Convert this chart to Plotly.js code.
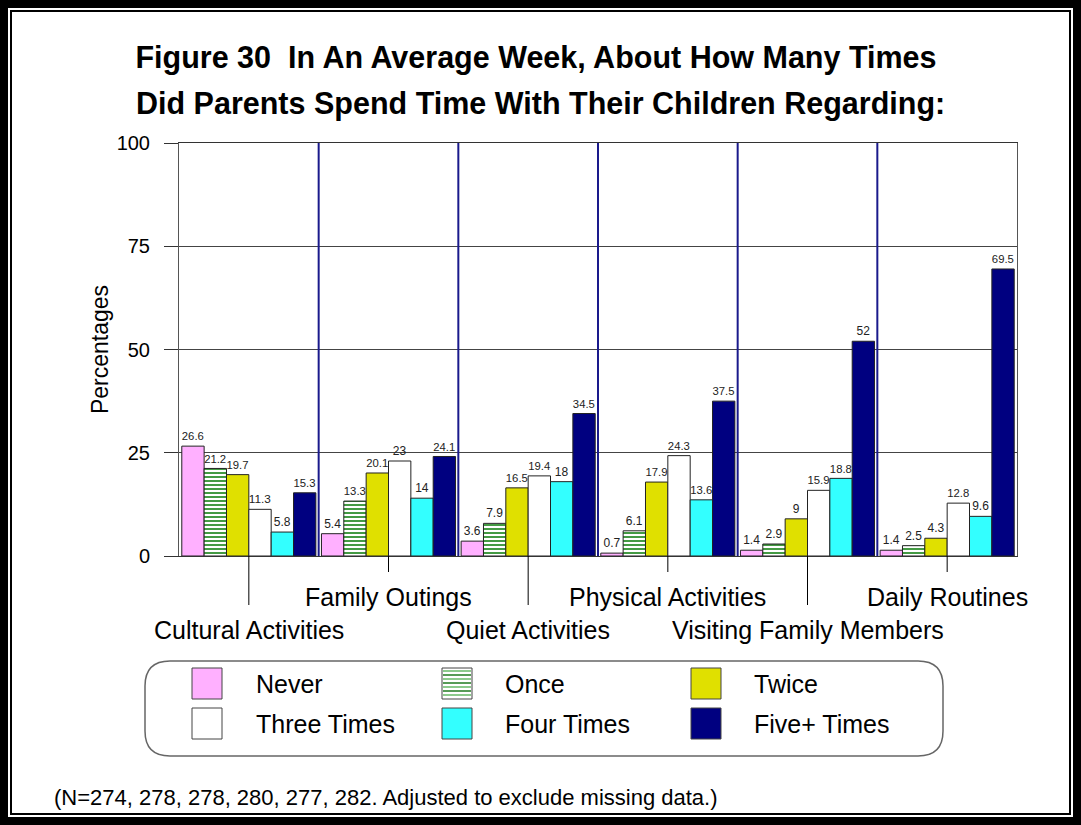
<!DOCTYPE html>
<html>
<head>
<meta charset="utf-8">
<script src="https://cdn.plot.ly/plotly-3.0.1.min.js"></script>
<style>
  html, body { margin: 0; padding: 0; background: #fff; }
  #wrap { position: relative; width: 1081px; height: 825px; }
  #chart { position: absolute; left: 0; top: 0; width: 1081px; height: 825px; }
  #outer { position: absolute; left: 0; top: 0; width: 1081px; height: 825px; box-sizing: border-box;
           border: 8px solid #000; pointer-events: none; }
  #inner { position: absolute; left: 10px; top: 10px; width: 1061px; height: 805px; box-sizing: border-box;
           border: 2px solid #000; pointer-events: none; }
</style>
</head>
<body>
<div id="wrap">
  <div id="chart"></div>
  <div id="outer"></div>
  <div id="inner"></div>
</div>
<script>
// ---- data ----
const categories = ['Cultural Activities', 'Family Outings', 'Quiet Activities',
                    'Physical Activities', 'Visiting Family Members', 'Daily Routines'];
const seriesNames = ['Never', 'Once', 'Twice', 'Three Times', 'Four Times', 'Five+ Times'];
const never = [26.6, 5.4, 3.6, 0.7, 1.4, 1.4];
const once  = [21.2, 13.3, 7.9, 6.1, 2.9, 2.5];
const twice = [19.7, 20.1, 16.5, 17.9, 9, 4.3];
const three = [11.3, 23, 19.4, 24.3, 15.9, 12.8];
const four  = [5.8, 14, 18, 13.6, 18.8, 9.6];
const five  = [15.3, 24.1, 34.5, 37.5, 52, 69.5];
const yTickVals = [0, 25, 50, 75, 100];
const titleLine1 = 'Figure 30  In An Average Week, About How Many Times';
const titleLine2 = 'Did Parents Spend Time With Their Children Regarding:';
const noteText = '(N=274, 278, 278, 280, 277, 282. Adjusted to exclude missing data.)';

// ---- styles ----
const FONT = 'Arial, "Liberation Sans", sans-serif';
const colors = ['#ffb0ff', '#ffffff', '#e0e000', '#ffffff', '#33ffff', '#000080'];
const W = 1081, H = 825;
const M = {l: 179, r: 64, t: 143, b: 269};
const plotW = W - M.l - M.r, plotH = H - M.t - M.b;
const px = v => (v - M.l) / plotW;          // pixel x -> paper
const py = v => (H - M.b - v) / plotH;      // pixel y -> paper

const allValues = [never, once, twice, three, four, five];
const traces = allValues.map((vals, i) => {
  const t = {
    type: 'bar', name: seriesNames[i], x: categories, y: vals,
    text: vals.map(v => String(v)), textposition: 'outside', cliponaxis: false,
    textfont: {family: FONT, size: 12, color: '#222'},
    marker: {color: colors[i], line: {color: '#222', width: 1}},
    showlegend: false, hoverinfo: 'x+y+name'
  };
  if (i === 1) {
    t.marker.pattern = {shape: '-', fgcolor: '#2f8f2f', bgcolor: '#ffffff', size: 4, solidity: 0.45};
  }
  return t;
});

const shapes = [];
const annotations = [];

// group separators
for (let i = 0; i < categories.length - 1; i++) {
  shapes.push({type: 'line', xref: 'x', yref: 'y', x0: i + 0.5, x1: i + 0.5, y0: 0, y1: 100,
               line: {color: '#1a1a8c', width: 2}, layer: 'above'});
}
// category ticks and staggered labels
categories.forEach((c, i) => {
  const lower = (i % 2 === 0);
  shapes.push({type: 'line', xref: 'x', yref: 'paper', x0: i, x1: i, y0: 0,
               y1: lower ? py(605) : py(572), line: {color: '#000', width: 1}});
  annotations.push({xref: 'x', yref: 'paper', x: c, y: lower ? py(630) : py(597),
                    text: c, showarrow: false, xanchor: 'center', yanchor: 'middle',
                    font: {family: FONT, size: 25, color: '#000'}});
});

// title line 2
annotations.push({xref: 'paper', yref: 'paper', x: px(540), y: py(103), text: '<b>' + titleLine2 + '</b>',
                  showarrow: false, xanchor: 'center', yanchor: 'middle',
                  font: {family: FONT, size: 30.5, color: '#000'}});
// note
annotations.push({xref: 'paper', yref: 'paper', x: px(52), y: py(797), text: noteText,
                  showarrow: false, xanchor: 'left', yanchor: 'middle',
                  font: {family: FONT, size: 22, color: '#000'}});

// legend box (rounded rectangle)
const bx0 = px(145), bx1 = px(943), by0 = py(756), by1 = py(661);
const rx = 25 / plotW, ry = 25 / plotH;
shapes.push({type: 'path', xref: 'paper', yref: 'paper',
  path: `M ${bx0 + rx} ${by1} L ${bx1 - rx} ${by1} Q ${bx1} ${by1} ${bx1} ${by1 - ry} ` +
        `L ${bx1} ${by0 + ry} Q ${bx1} ${by0} ${bx1 - rx} ${by0} L ${bx0 + rx} ${by0} ` +
        `Q ${bx0} ${by0} ${bx0} ${by0 + ry} L ${bx0} ${by1 - ry} Q ${bx0} ${by1} ${bx0 + rx} ${by1} Z`,
  line: {color: '#666', width: 1.5}, fillcolor: 'rgba(0,0,0,0)'});

const colX = [192, 442, 691];
const textX = [254, 503, 752];
const rowY = [668, 708];
seriesNames.forEach((name, i) => {
  const r = Math.floor(i / 3), c = i % 3;
  const x0 = colX[c], x1 = colX[c] + 30, y0 = rowY[r], y1 = rowY[r] + 31;
  shapes.push({type: 'rect', xref: 'paper', yref: 'paper', x0: px(x0), x1: px(x1), y0: py(y1), y1: py(y0),
               fillcolor: colors[i], line: {color: '#444', width: 1}});
  if (i === 1) {
    for (let yy = y0 + 3; yy < y1 - 1; yy += 4) {
      shapes.push({type: 'line', xref: 'paper', yref: 'paper', x0: px(x0 + 1), x1: px(x1 - 1),
                   y0: py(yy), y1: py(yy), line: {color: (yy % 8 < 4) ? '#1f7a1f' : '#66b866', width: 1.5}});
    }
  }
  annotations.push({xref: 'paper', yref: 'paper', x: px(textX[c]), y: py(y0 + 16), text: name,
                    showarrow: false, xanchor: 'left', yanchor: 'middle',
                    font: {family: FONT, size: 25, color: '#000'}});
});

const layout = {
  width: W, height: H,
  margin: M,
  paper_bgcolor: '#ffffff', plot_bgcolor: '#ffffff',
  font: {family: FONT, color: '#000'},
  title: {text: '<b>' + titleLine1 + '</b>', x: 536 / W, xref: 'container', xanchor: 'center',
          y: 1 - 57 / H, yref: 'container', yanchor: 'middle',
          font: {family: FONT, size: 30.5, color: '#000'}},
  barmode: 'group', bargap: 0.04, bargroupgap: 0,
  xaxis: {type: 'category', range: [-0.5, categories.length - 0.5], showticklabels: false,
          ticks: '', showgrid: false, showline: true, linecolor: '#333', linewidth: 1, mirror: true,
          zeroline: false, fixedrange: true},
  yaxis: {range: [0, 100], tickvals: yTickVals, ticktext: yTickVals.map(String), ticks: 'outside',
          ticklen: 14, tickcolor: '#333', tickwidth: 1, ticklabelstandoff: 10,
          tickfont: {family: FONT, size: 20, color: '#000'},
          showgrid: true, gridcolor: '#444', gridwidth: 1,
          showline: true, linecolor: '#555', linewidth: 1, mirror: true, zeroline: false,
          title: {text: 'Percentages', standoff: 1, font: {family: FONT, size: 23, color: '#000'}},
          fixedrange: true},
  shapes: shapes,
  annotations: annotations
};

Plotly.newPlot('chart', traces, layout, {displayModeBar: false, staticPlot: true});
</script>
</body>
</html>
